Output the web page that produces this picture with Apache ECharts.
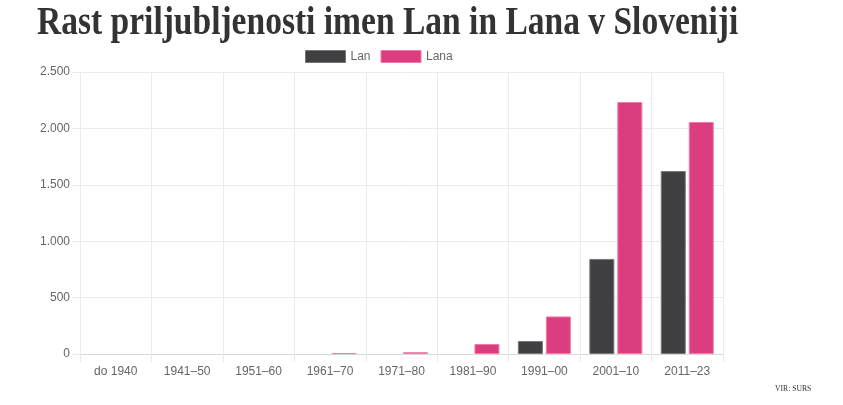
<!DOCTYPE html>
<html>
<head>
<meta charset="utf-8">
<script src="https://cdn.jsdelivr.net/npm/echarts@6/dist/echarts.min.js"></script>
<style>
html,body{margin:0;padding:0;background:#fff;}
#c{width:843px;height:405px;}
</style>
</head>
<body>
<div id="c"></div>
<script>
const categories = ["do 1940","1941–50","1951–60","1961–70","1971–80","1981–90","1991–00","2001–10","2011–23"];
const lanValues = [0, 0, 0, 0, 0, 0, 115, 843, 1622];
const lanaValues = [0, 0, 0, 8, 16, 89, 333, 2234, 2057];
const yTicks = [0, 500, 1000, 1500, 2000, 2500];

const chart = echarts.init(document.getElementById('c'), null, {renderer:'canvas'});
const fmt = v => String(v).replace(/\B(?=(\d{3})+(?!\d))/g, '.');
const hideZero = arr => arr.map(v => v === 0 ? '-' : v);
chart.setOption({
  animation:false,
  textStyle:{fontFamily:'Liberation Sans, Arial, sans-serif'},
  graphic:[
    {type:'text', left:37, top:4, scaleX:0.838, style:{text:'Rast priljubljenosti imen Lan in Lana v Sloveniji', font:'bold 40px "Liberation Serif", "Times New Roman", serif', fill:'#333'}},
    {type:'text', left:775, top:384, scaleX:0.85, style:{text:'VIR: SURS', font:'9px "Liberation Serif", "Times New Roman", serif', fill:'#333'}}
  ],
  legend:{
    top:45, left:300, itemWidth:40, itemHeight:12, itemGap:10, icon:'rect',
    textStyle:{color:'#666', fontSize:12},
    data:[
      {name:'Lan', itemStyle:{color:'#404042', borderColor:'#777', borderWidth:1}},
      {name:'Lana', itemStyle:{color:'#db3e7e', borderColor:'#f07aa8', borderWidth:1}}
    ]
  },
  grid:{left:80, right:120, top:72, bottom:51, containLabel:false},
  xAxis:{
    type:'category', data:categories, boundaryGap:true,
    axisLine:{show:true, lineStyle:{color:'#d9d9d9'}},
    axisTick:{show:true, length:8, lineStyle:{color:'#ebebeb'}},
    splitLine:{show:true, lineStyle:{color:'#ebebeb'}},
    axisLabel:{color:'#666', fontSize:12, margin:12}
  },
  yAxis:{
    type:'value', min:0, max:2500, interval:500,
    axisLine:{show:true, lineStyle:{color:'#ebebeb'}},
    axisTick:{show:true, length:8, lineStyle:{color:'#ebebeb'}},
    splitLine:{show:true, lineStyle:{color:'#ebebeb'}},
    axisLabel:{color:'#666', fontSize:12, margin:10, formatter:v => yTicks.includes(v) ? fmt(v) : ''}
  },
  series:[
    {name:'Lan', type:'bar', data:hideZero(lanValues), barWidth:25, barGap:'12%',
     itemStyle:{color:'#404042', borderColor:'#777', borderWidth:1}},
    {name:'Lana', type:'bar', data:hideZero(lanaValues), barWidth:25,
     itemStyle:{color:'#db3e7e', borderColor:'#f07aa8', borderWidth:1}}
  ]
});
</script>
</body>
</html>
